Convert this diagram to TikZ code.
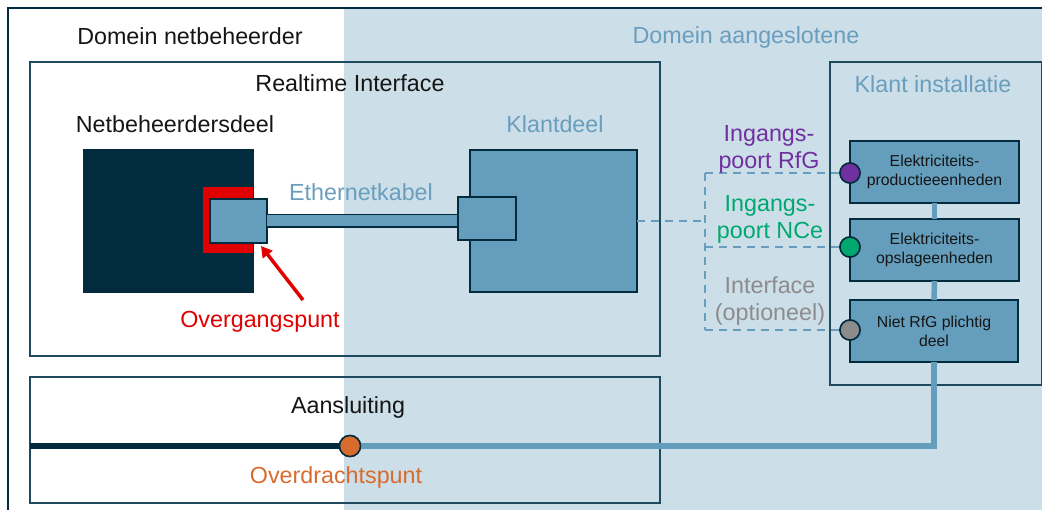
\documentclass[tikz,border=0pt]{standalone}
\usepackage{fontspec}
\setmainfont{Liberation Sans}
\usetikzlibrary{arrows.meta,calc}
\definecolor{bgblue}{HTML}{CCDEE8}
\definecolor{navy}{HTML}{032B3E}
\definecolor{framec}{HTML}{1D4A5E}
\definecolor{midblue}{HTML}{659EBD}
\definecolor{txtblue}{HTML}{6A9EBE}
\definecolor{purp}{HTML}{7030A0}
\definecolor{grn}{HTML}{00A870}
\definecolor{gry}{HTML}{8C8C8C}
\definecolor{orng}{HTML}{D86B2E}
\definecolor{redc}{HTML}{E00000}
\definecolor{ink}{HTML}{151515}
\begin{document}
\begin{tikzpicture}[x=1pt,y=-1pt,
  big/.style={font=\fontsize{23.3}{27}\selectfont, align=center, inner sep=0pt, text=ink},
  small/.style={font=\fontsize{15.8}{19}\selectfont, align=center, text=ink},
  area/.style={draw=framec, line width=1.5pt, anchor=north west, inner sep=0pt, outer sep=0pt},
  unitbox/.style={draw=navy, fill=midblue, line width=1.8pt, anchor=north west, inner sep=0pt, outer sep=0pt},
  port/.style={circle, draw=navy, line width=1.5pt, minimum size=20pt, inner sep=0pt},
  dashlink/.style={draw=txtblue, line width=2.3pt, dash pattern=on 8pt off 6pt},
  feed/.style={draw=midblue, line width=5.5pt},
]
\useasboundingbox (0,0) rectangle (1042,510);
% background domain
\fill[bgblue] (344,9) rectangle (1042,510);
\draw[navy, line width=1.5pt] (8,510) -- (8,8) -- (1042,8);

% domain titles
\node[big, anchor=base] (dnb) at (190,45) {Domein netbeheerder};
\node[big, anchor=base, text=txtblue] (dag) at (746,44) {Domein aangeslotene};

% realtime interface
\node[area, minimum width=630pt, minimum height=294pt] (rti) at (30,62) {};
\node[big, anchor=base] (rtit) at (350,92) {Realtime Interface};
\node[big, anchor=base] (nbd) at (175,133) {Netbeheerdersdeel};
\node[big, anchor=base, text=txtblue] (kd) at (555,133) {Klantdeel};

\node[draw=navy, fill=navy, line width=1.2pt, anchor=north west, inner sep=0pt, minimum width=170pt, minimum height=143pt] (nbox) at (83,149) {};
\fill[redc] (203,187) rectangle (253,253);
\node[unitbox, minimum width=57pt, minimum height=44pt] (plugA) at (210,199) {};

\node[unitbox, minimum width=167pt, minimum height=142pt] (kbox) at (470,150) {};
\node[unitbox, minimum width=58pt, minimum height=43pt] (plugB) at (458,197) {};

\draw[line width=1.6pt, draw=navy, double=midblue, double distance=11pt]
  (plugA.east) -- (plugA.east -| plugB.west);
\node[unitbox, minimum width=58pt, minimum height=43pt] (plugB2) at (458,197) {};

\node[big, anchor=base, text=txtblue] (eth) at (361,201) {Ethernetkabel};

\coordinate (arrtail) at (303,300);
\coordinate (arrhead) at (261,246);
\draw[redc, line width=3.5pt, -{Triangle[length=11pt,width=12pt]}] (arrtail) -- (arrhead);
\node[big, anchor=base, text=redc] (ovg) at (260,328) {Overgangspunt};

% klant installatie
\node[area, minimum width=212pt, minimum height=323pt] (ki) at (830,62) {};
\node[big, anchor=base, text=txtblue] (kit) at (933,93) {Klant installatie};

\node[unitbox, small, minimum width=169pt, minimum height=62pt] (prod) at (850,141) {Elektriciteits-\\productieeenheden};
\node[unitbox, small, minimum width=169pt, minimum height=62pt] (opsl) at (850,219) {Elektriciteits-\\opslageenheden};
\node[unitbox, small, minimum width=168pt, minimum height=62pt] (niet) at (850,300) {Niet RfG plichtig\\deel};

\draw[feed] (prod.south) -- (opsl.north);
\draw[feed] (opsl.south) -- (niet.north);

% dashed interface lines
\coordinate (dj) at (705,221);
\coordinate (d1) at (705,173);
\coordinate (d2) at (705,247);
\coordinate (d3) at (705,330);
\node[port, fill=purp] (p1) at (850,173) {};
\node[port, fill=grn] (p2) at (850,247) {};
\node[port, fill=gry] (p3) at (850,330) {};
\draw[dashlink] (kbox.east |- dj) -- (dj);
\draw[dashlink] (d1) -- (d3);
\draw[dashlink] (d1) -- (p1.west);
\draw[dashlink] (d2) -- (p2.west);
\draw[dashlink] (d3) -- (p3.west);
\node[port, fill=purp] at (p1) {};
\node[port, fill=grn] at (p2) {};
\node[port, fill=gry] at (p3) {};

\node[big, text=purp] (l1) at (769,149) {Ingangs-\\poort RfG};
\node[big, text=grn] (l2) at (770,219) {Ingangs-\\poort NCe};
\node[big, text=gry] (l3) at (770,301) {Interface\\(optioneel)};

% aansluiting
\node[area, minimum width=630pt, minimum height=126pt] (aans) at (30,377) {};
\node[big, anchor=base] (aanst) at (348,414) {Aansluiting};
\node[port, fill=orng, minimum size=21pt] (ovp) at (350,446) {};
\coordinate (bend) at (niet.south |- ovp);
\draw[feed, line width=6pt] (niet.south) -- (bend) -- (ovp);
\draw[navy, line width=6pt] (aans.west |- ovp) -- (ovp);
\node[port, fill=orng, minimum size=21pt] at (ovp) {};
\node[big, anchor=base, text=orng] (ovdt) at (336,484) {Overdrachtspunt};
\end{tikzpicture}
\end{document}
